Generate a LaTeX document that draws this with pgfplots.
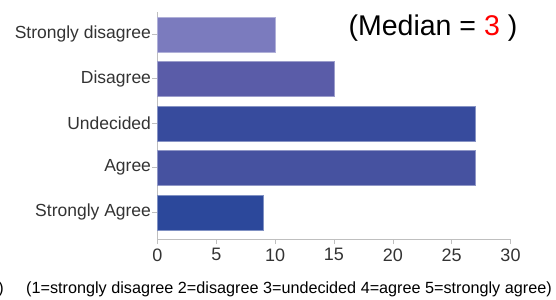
\documentclass[border=0pt]{standalone}
\usepackage{pgfplots}
\pgfplotsset{compat=1.18}
\usepackage{fontspec}
\setmainfont{Liberation Sans}
\definecolor{c1}{RGB}{123,123,190}
\definecolor{c2}{RGB}{90,92,168}
\definecolor{c3}{RGB}{55,75,157}
\definecolor{c4}{RGB}{70,82,160}
\definecolor{c5}{RGB}{44,72,155}
\begin{document}
\begin{tikzpicture}
\useasboundingbox (0,0) rectangle (556bp,300bp);
\begin{axis}[
 at={(157.5bp,61bp)}, anchor=south west,
 scale only axis, width=353bp, height=227bp,
 xbar, bar shift=0pt, bar width=35bp,
 xmin=0, xmax=30, ymin=-0.6, ymax=4.5,
 axis x line*=bottom, axis y line*=left,
 axis line style={draw=black!25, line width=0.8bp},
 xtick={0,5,...,30}, ytick={0,...,4},
 yticklabels={Strongly Agree,Agree,Undecided,Disagree,Strongly disagree},
 tick align=outside, major tick length=5bp,
 tick style={draw=black!25, line width=0.6bp},
 ticklabel style={text=black!80},
 xticklabel style={font=\fontsize{18bp}{21bp}\selectfont, yshift=-1bp},
 yticklabel style={font=\fontsize{17.5bp}{20bp}\selectfont, xshift=2bp},
 /pgf/number format/assume math mode=true,
 clip=false,
]
\addplot[fill=c1, draw=c1!60!white] coordinates {(10,4)};
\addplot[fill=c2, draw=c2!60!white] coordinates {(15,3)};
\addplot[fill=c3, draw=c3!60!white] coordinates {(27,2)};
\addplot[fill=c4, draw=c4!60!white] coordinates {(27,1)};
\addplot[fill=c5, draw=c5!60!white] coordinates {(9,0)};
\end{axis}
\node[font=\fontsize{28.5bp}{31bp}\selectfont, anchor=center] at (433bp,272bp) {(Median = {\color{red}3} )};
\node[font=\fontsize{16.2bp}{19bp}\selectfont, anchor=center] at (289bp,11bp) {(1=strongly disagree 2=disagree 3=undecided 4=agree 5=strongly agree)};
\node[font=\fontsize{16.2bp}{19bp}\selectfont, anchor=east, inner sep=0pt] at (4bp,11bp) {)};
\end{tikzpicture}
\end{document}
